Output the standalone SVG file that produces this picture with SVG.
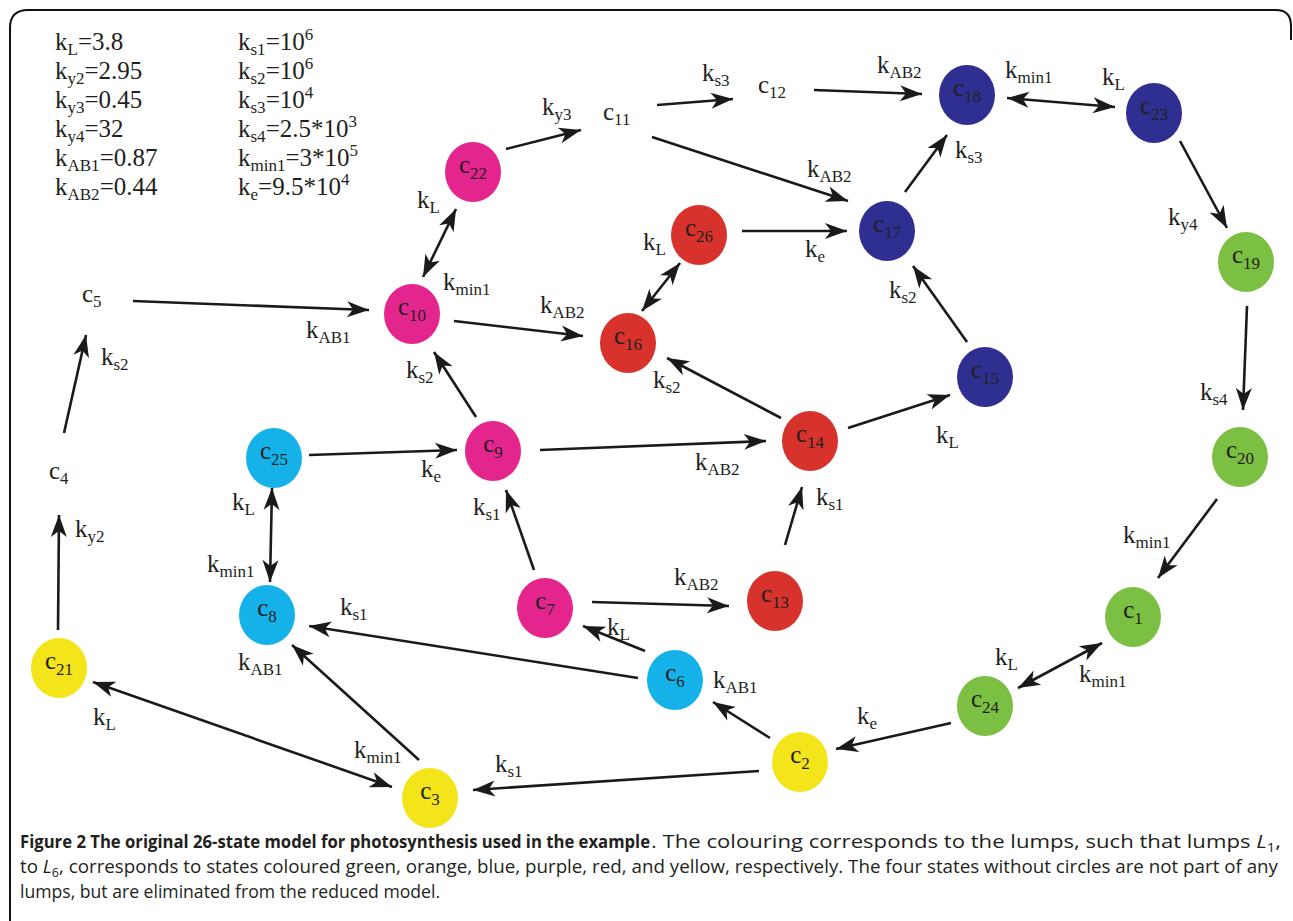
<svg xmlns="http://www.w3.org/2000/svg" width="1293" height="921" viewBox="0 0 1293 921">
<style>
.t{font-family:"Liberation Serif","Times New Roman",serif;font-size:25px;fill:#231f20}
.sb{font-size:17px}
.nl{font-family:"Liberation Serif","Times New Roman",serif;font-size:25px;fill:#231f20;text-anchor:middle}
.e{fill:none;stroke:#1a1a1a;stroke-width:2.6;marker-end:url(#ah)}
.d{marker-start:url(#ah)}
.mag{fill:#e5258e}.red{fill:#d8322d}.blu{fill:#2e2f90}.grn{fill:#7bbf43}.yel{fill:#f4e51a}.cya{fill:#14b2e8}
.cap{font-family:"Open Sans","Liberation Sans",sans-serif;font-size:18px;fill:#231f20}
</style>
<defs>
<marker id="ah" markerUnits="userSpaceOnUse" markerWidth="26" markerHeight="20" refX="22" refY="8" orient="auto-start-reverse" overflow="visible">
<path d="M0,0 L22,8 L0,16 L6,8 Z" fill="#1a1a1a"/>
</marker>
</defs>
<rect width="1293" height="921" fill="#fff"/>
<path d="M10,921 V28 Q10,10 28,10 H1276 Q1291,10 1291,26 V40" fill="none" stroke="#111" stroke-width="2"/>

<g id="params" class="t">
<text x="55" y="50">k<tspan class="sb" dy="5">L</tspan><tspan dy="-5">=3.8</tspan></text>
<text x="55" y="79">k<tspan class="sb" dy="5">y2</tspan><tspan dy="-5">=2.95</tspan></text>
<text x="55" y="108">k<tspan class="sb" dy="5">y3</tspan><tspan dy="-5">=0.45</tspan></text>
<text x="55" y="137">k<tspan class="sb" dy="5">y4</tspan><tspan dy="-5">=32</tspan></text>
<text x="55" y="166">k<tspan class="sb" dy="5">AB1</tspan><tspan dy="-5">=0.87</tspan></text>
<text x="55" y="195">k<tspan class="sb" dy="5">AB2</tspan><tspan dy="-5">=0.44</tspan></text>
<text x="238" y="50">k<tspan class="sb" dy="5">s1</tspan><tspan dy="-5">=10</tspan><tspan class="sb" dy="-10">6</tspan></text>
<text x="238" y="79">k<tspan class="sb" dy="5">s2</tspan><tspan dy="-5">=10</tspan><tspan class="sb" dy="-10">6</tspan></text>
<text x="238" y="108">k<tspan class="sb" dy="5">s3</tspan><tspan dy="-5">=10</tspan><tspan class="sb" dy="-10">4</tspan></text>
<text x="238" y="137">k<tspan class="sb" dy="5">s4</tspan><tspan dy="-5">=2.5*10</tspan><tspan class="sb" dy="-10">3</tspan></text>
<text x="238" y="166">k<tspan class="sb" dy="5">min1</tspan><tspan dy="-5">=3*10</tspan><tspan class="sb" dy="-10">5</tspan></text>
<text x="238" y="195">k<tspan class="sb" dy="5">e</tspan><tspan dy="-5">=9.5*10</tspan><tspan class="sb" dy="-10">4</tspan></text>
</g>

<g id="connectors">
<line class="e" x1="506" y1="149" x2="581" y2="130"/>
<line class="e" x1="657" y1="105" x2="733" y2="99"/>
<line class="e" x1="814" y1="90" x2="922" y2="94"/>
<line class="e" x1="652" y1="137" x2="848" y2="201"/>
<line class="e d" x1="1007" y1="98" x2="1115" y2="107"/>
<line class="e" x1="905" y1="192" x2="947" y2="135"/>
<line class="e" x1="1180" y1="141" x2="1227" y2="228"/>
<line class="e" x1="1247" y1="306" x2="1243" y2="410"/>
<line class="e" x1="1217" y1="499" x2="1158" y2="578"/>
<line class="e d" x1="1018" y1="688" x2="1102" y2="643"/>
<line class="e" x1="951" y1="723" x2="836" y2="749"/>
<line class="e" x1="770" y1="738" x2="713" y2="702"/>
<line class="e" x1="759" y1="771" x2="473" y2="790"/>
<line class="e" x1="645" y1="651" x2="583" y2="626"/>
<line class="e" x1="638" y1="678" x2="309" y2="626"/>
<line class="e" x1="419" y1="760" x2="292" y2="645"/>
<line class="e d" x1="93" y1="682" x2="392" y2="787"/>
<line class="e" x1="58" y1="630" x2="59" y2="515"/>
<line class="e" x1="64" y1="433" x2="86" y2="335"/>
<line class="e" x1="133" y1="301" x2="369" y2="310"/>
<line class="e d" x1="423" y1="277" x2="456" y2="209"/>
<line class="e" x1="454" y1="321" x2="583" y2="336"/>
<line class="e d" x1="642" y1="311" x2="680" y2="263"/>
<line class="e" x1="742" y1="231" x2="847" y2="231"/>
<line class="e" x1="476" y1="417" x2="434" y2="352"/>
<line class="e" x1="781" y1="418" x2="667" y2="358"/>
<line class="e" x1="309" y1="455" x2="457" y2="450"/>
<line class="e" x1="540" y1="450" x2="766" y2="441"/>
<line class="e" x1="848" y1="428" x2="950" y2="395"/>
<line class="e" x1="967" y1="342" x2="913" y2="266"/>
<line class="e d" x1="272" y1="488" x2="270" y2="582"/>
<line class="e" x1="534" y1="570" x2="506" y2="490"/>
<line class="e" x1="592" y1="602" x2="729" y2="606"/>
<line class="e" x1="785" y1="545" x2="802" y2="487"/>
</g>

<g id="edge-labels" class="t">
<text x="542" y="115">k<tspan class="sb" dy="5">y3</tspan></text>
<text x="702" y="81">k<tspan class="sb" dy="5">s3</tspan></text>
<text x="877" y="73">k<tspan class="sb" dy="5">AB2</tspan></text>
<text x="807" y="177">k<tspan class="sb" dy="5">AB2</tspan></text>
<text x="1005" y="78">k<tspan class="sb" dy="5">min1</tspan></text>
<text x="1102" y="85">k<tspan class="sb" dy="5">L</tspan></text>
<text x="955" y="158">k<tspan class="sb" dy="5">s3</tspan></text>
<text x="1168" y="225">k<tspan class="sb" dy="5">y4</tspan></text>
<text x="1200" y="400">k<tspan class="sb" dy="5">s4</tspan></text>
<text x="1123" y="543">k<tspan class="sb" dy="5">min1</tspan></text>
<text x="995" y="665">k<tspan class="sb" dy="5">L</tspan></text>
<text x="1079" y="682">k<tspan class="sb" dy="5">min1</tspan></text>
<text x="857" y="724">k<tspan class="sb" dy="5">e</tspan></text>
<text x="713" y="688">k<tspan class="sb" dy="5">AB1</tspan></text>
<text x="495" y="772">k<tspan class="sb" dy="5">s1</tspan></text>
<text x="607" y="635">k<tspan class="sb" dy="5">L</tspan></text>
<text x="340" y="615">k<tspan class="sb" dy="5">s1</tspan></text>
<text x="238" y="670">k<tspan class="sb" dy="5">AB1</tspan></text>
<text x="93" y="725">k<tspan class="sb" dy="5">L</tspan></text>
<text x="354" y="758">k<tspan class="sb" dy="5">min1</tspan></text>
<text x="75" y="537">k<tspan class="sb" dy="5">y2</tspan></text>
<text x="101" y="365">k<tspan class="sb" dy="5">s2</tspan></text>
<text x="306" y="338">k<tspan class="sb" dy="5">AB1</tspan></text>
<text x="417" y="208">k<tspan class="sb" dy="5">L</tspan></text>
<text x="443" y="290">k<tspan class="sb" dy="5">min1</tspan></text>
<text x="540" y="313">k<tspan class="sb" dy="5">AB2</tspan></text>
<text x="643" y="250">k<tspan class="sb" dy="5">L</tspan></text>
<text x="805" y="257">k<tspan class="sb" dy="5">e</tspan></text>
<text x="406" y="378">k<tspan class="sb" dy="5">s2</tspan></text>
<text x="653" y="388">k<tspan class="sb" dy="5">s2</tspan></text>
<text x="421" y="477">k<tspan class="sb" dy="5">e</tspan></text>
<text x="695" y="470">k<tspan class="sb" dy="5">AB2</tspan></text>
<text x="936" y="443">k<tspan class="sb" dy="5">L</tspan></text>
<text x="889" y="298">k<tspan class="sb" dy="5">s2</tspan></text>
<text x="232" y="510">k<tspan class="sb" dy="5">L</tspan></text>
<text x="207" y="572">k<tspan class="sb" dy="5">min1</tspan></text>
<text x="473" y="515">k<tspan class="sb" dy="5">s1</tspan></text>
<text x="674" y="585">k<tspan class="sb" dy="5">AB2</tspan></text>
<text x="816" y="505">k<tspan class="sb" dy="5">s1</tspan></text>
</g>

<g id="c4"><text class="t" x="49" y="479">c<tspan class="sb" dy="5">4</tspan></text></g>
<g id="c5"><text class="t" x="82" y="302">c<tspan class="sb" dy="5">5</tspan></text></g>
<g id="c11"><text class="t" x="603" y="120">c<tspan class="sb" dy="5">11</tspan></text></g>
<g id="c12"><text class="t" x="758" y="93">c<tspan class="sb" dy="5">12</tspan></text></g>

<g id="c1"><ellipse class="grn" cx="1133" cy="617" rx="28" ry="30"/><text class="nl" x="1133" y="618">c<tspan class="sb" dy="6">1</tspan></text></g>
<g id="c2"><ellipse class="yel" cx="800" cy="762" rx="28" ry="30"/><text class="nl" x="800" y="763">c<tspan class="sb" dy="6">2</tspan></text></g>
<g id="c3"><ellipse class="yel" cx="430" cy="798" rx="28" ry="30"/><text class="nl" x="430" y="799">c<tspan class="sb" dy="6">3</tspan></text></g>
<g id="c6"><ellipse class="cya" cx="675" cy="680" rx="28" ry="30"/><text class="nl" x="675" y="681">c<tspan class="sb" dy="6">6</tspan></text></g>
<g id="c7"><ellipse class="mag" cx="545" cy="608" rx="28" ry="30"/><text class="nl" x="545" y="609">c<tspan class="sb" dy="6">7</tspan></text></g>
<g id="c8"><ellipse class="cya" cx="267" cy="615" rx="28" ry="30"/><text class="nl" x="267" y="616">c<tspan class="sb" dy="6">8</tspan></text></g>
<g id="c9"><ellipse class="mag" cx="493" cy="451" rx="28" ry="30"/><text class="nl" x="493" y="452">c<tspan class="sb" dy="6">9</tspan></text></g>
<g id="c10"><ellipse class="mag" cx="412" cy="314" rx="28" ry="30"/><text class="nl" x="412" y="315">c<tspan class="sb" dy="6">10</tspan></text></g>
<g id="c13"><ellipse class="red" cx="775" cy="601" rx="28" ry="30"/><text class="nl" x="775" y="602">c<tspan class="sb" dy="6">13</tspan></text></g>
<g id="c14"><ellipse class="red" cx="810" cy="441" rx="28" ry="30"/><text class="nl" x="810" y="442">c<tspan class="sb" dy="6">14</tspan></text></g>
<g id="c15"><ellipse class="blu" cx="985" cy="377" rx="28" ry="30"/><text class="nl" x="985" y="378">c<tspan class="sb" dy="6">15</tspan></text></g>
<g id="c16"><ellipse class="red" cx="628" cy="343" rx="28" ry="30"/><text class="nl" x="628" y="344">c<tspan class="sb" dy="6">16</tspan></text></g>
<g id="c17"><ellipse class="blu" cx="887" cy="231" rx="28" ry="30"/><text class="nl" x="887" y="232">c<tspan class="sb" dy="6">17</tspan></text></g>
<g id="c18"><ellipse class="blu" cx="967" cy="95" rx="28" ry="30"/><text class="nl" x="967" y="96">c<tspan class="sb" dy="6">18</tspan></text></g>
<g id="c19"><ellipse class="grn" cx="1246" cy="262" rx="28" ry="30"/><text class="nl" x="1246" y="263">c<tspan class="sb" dy="6">19</tspan></text></g>
<g id="c20"><ellipse class="grn" cx="1240" cy="457" rx="28" ry="30"/><text class="nl" x="1240" y="458">c<tspan class="sb" dy="6">20</tspan></text></g>
<g id="c21"><ellipse class="yel" cx="59" cy="668" rx="28" ry="30"/><text class="nl" x="59" y="669">c<tspan class="sb" dy="6">21</tspan></text></g>
<g id="c22"><ellipse class="mag" cx="473" cy="172" rx="28" ry="30"/><text class="nl" x="473" y="173">c<tspan class="sb" dy="6">22</tspan></text></g>
<g id="c23"><ellipse class="blu" cx="1154" cy="113" rx="28" ry="30"/><text class="nl" x="1154" y="114">c<tspan class="sb" dy="6">23</tspan></text></g>
<g id="c24"><ellipse class="grn" cx="985" cy="706" rx="28" ry="30"/><text class="nl" x="985" y="707">c<tspan class="sb" dy="6">24</tspan></text></g>
<g id="c25"><ellipse class="cya" cx="274" cy="458" rx="28" ry="30"/><text class="nl" x="274" y="459">c<tspan class="sb" dy="6">25</tspan></text></g>
<g id="c26"><ellipse class="red" cx="699" cy="235" rx="28" ry="30"/><text class="nl" x="699" y="236">c<tspan class="sb" dy="6">26</tspan></text></g>

<g id="caption" class="cap">
<text x="20" y="848" font-weight="bold" textLength="630" lengthAdjust="spacingAndGlyphs">Figure 2 The original 26-state model for photosynthesis used in the example</text>
<text x="651" y="848" textLength="630" lengthAdjust="spacingAndGlyphs">. The colouring corresponds to the lumps, such that lumps <tspan font-style="italic">L</tspan><tspan font-size="12" dy="4">1</tspan><tspan dy="-4">,</tspan></text>
<text x="20" y="873" textLength="1258" lengthAdjust="spacingAndGlyphs">to <tspan font-style="italic">L</tspan><tspan font-size="12" dy="4">6</tspan><tspan dy="-4">, corresponds to states coloured green, orange, blue, purple, red, and yellow, respectively. The four states without circles are not part of any</tspan></text>
<text x="20" y="898" textLength="420" lengthAdjust="spacingAndGlyphs">lumps, but are eliminated from the reduced model.</text>
</g>
</svg>
